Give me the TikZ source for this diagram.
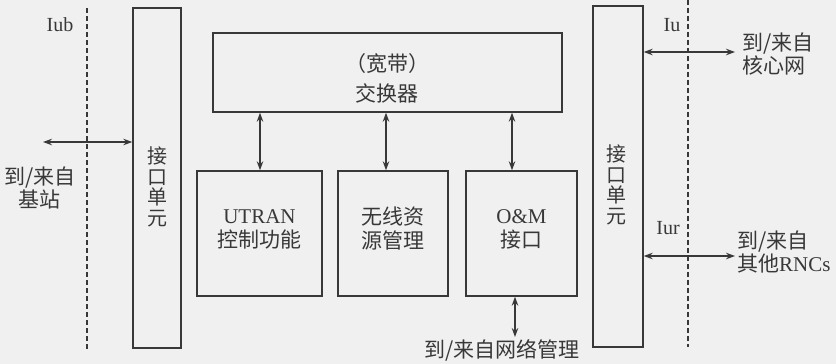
\documentclass[tikz,border=0pt]{standalone}
\usepackage{fontspec}
\setmainfont{Liberation Serif}
\newfontfamily\cjk{Noto Sans CJK SC}
\usetikzlibrary{arrows.meta}
\definecolor{ink}{gray}{0.22}
\definecolor{paper}{gray}{0.94}
\begin{document}
\begin{tikzpicture}[x=1pt,y=-1pt,
  every node/.style={text=ink},
  blk/.style={draw=ink, line width=1.4pt, inner sep=0pt},
  txt/.style={inner sep=0pt, align=center, font=\fontsize{21}{24}\selectfont},
  vtxt/.style={inner sep=0pt, align=center, font=\fontsize{20}{20.5}\selectfont\cjk},
  conn/.style={draw=ink, line width=1.1pt, {Stealth[length=9pt,width=6.5pt]}-{Stealth[length=9pt,width=6.5pt]}},
  ifline/.style={draw=ink, line width=1.1pt, dash pattern=on 5pt off 3pt}
]
\fill[paper] (0,0) rectangle (836,364);
\useasboundingbox (0,0) rectangle (836,364);

% interface units
\node[blk, minimum width=48pt, minimum height=340pt] (lu) at (157,178) {};
\node[vtxt] (lut) at (157,187) {接\\口\\单\\元};
\node[blk, minimum width=50pt, minimum height=341pt] (ru) at (618,176.5) {};
\node[vtxt] (rut) at (616,185) {接\\口\\单\\元};

% switch
\node[blk, minimum width=349pt, minimum height=79pt] (sw) at (387.5,72.5) {};
\node[txt, font=\fontsize{21}{30}\selectfont\cjk] (swt) at (387,78) {（宽带）\\交换器};

% lower blocks
\node[blk, minimum width=125pt, minimum height=125pt] (b1) at (259.5,233.5) {};
\node[blk, minimum width=110pt, minimum height=125pt] (b2) at (393,233.5) {};
\node[blk, minimum width=111pt, minimum height=125pt] (b3) at (521.5,233.5) {};
\node[txt] (b1t) at (259.5,229) {UTRAN\\{\cjk 控制功能}};
\node[txt, font=\fontsize{21}{24}\selectfont\cjk] (b2t) at (393,229) {无线资\\源管理};
\node[txt] (b3t) at (521.5,229) {O\&M\\{\cjk 接口}};

% switch <-> blocks
\coordinate (c1) at ([xshift=0.5pt]b1.north);
\coordinate (c2) at ([xshift=-7pt]b2.north);
\coordinate (c3) at ([xshift=-9.5pt]b3.north);
\draw[conn] (c1 |- sw.south) -- (c1);
\draw[conn] (c2 |- sw.south) -- (c2);
\draw[conn] (c3 |- sw.south) -- (c3);

% O&M to network management
\coordinate (c4) at ([xshift=-6.5pt]b3.south);
\coordinate (nm) at (515,337);
\draw[conn] (c4) -- (nm);
\node[txt, font=\fontsize{21}{24}\selectfont\cjk] (nmt) at (502,350) {到/来自网络管理};

% interface lines
\coordinate (iubtop) at (87,8);
\coordinate (iubbot) at (87,350);
\draw[ifline] (iubtop) -- (iubbot);
\coordinate (iutop) at (688,0);
\coordinate (iubot) at (688,347);
\draw[ifline] (iutop) -- (iubot);
\node[txt, font=\fontsize{20}{24}\selectfont] (iub) at (60,25) {Iub};
\node[txt, font=\fontsize{20}{24}\selectfont] (iu) at (672,25) {Iu};
\node[txt, font=\fontsize{20}{24}\selectfont] (iur) at (668,228) {Iur};

% external connections
\coordinate (bs) at (43,142);
\draw[conn] (bs) -- (lu.west |- bs);
\node[txt, font=\fontsize{21}{23}\selectfont\cjk] (bst) at (40,188) {到/来自\\基站};

\coordinate (cn) at (735,52);
\draw[conn] (ru.east |- cn) -- (cn);
\node[txt, anchor=west, align=left, font=\fontsize{21}{23}\selectfont\cjk] (cnt) at (742,54) {到/来自\\核心网};

\coordinate (rnc) at (735,256);
\draw[conn] (ru.east |- rnc) -- (rnc);
\node[txt, anchor=west, align=left, font=\fontsize{21}{21}\selectfont\cjk] (rnct) at (737,252) {到/来自\\其他{\fontspec{Liberation Serif}RNCs}};
\end{tikzpicture}
\end{document}
